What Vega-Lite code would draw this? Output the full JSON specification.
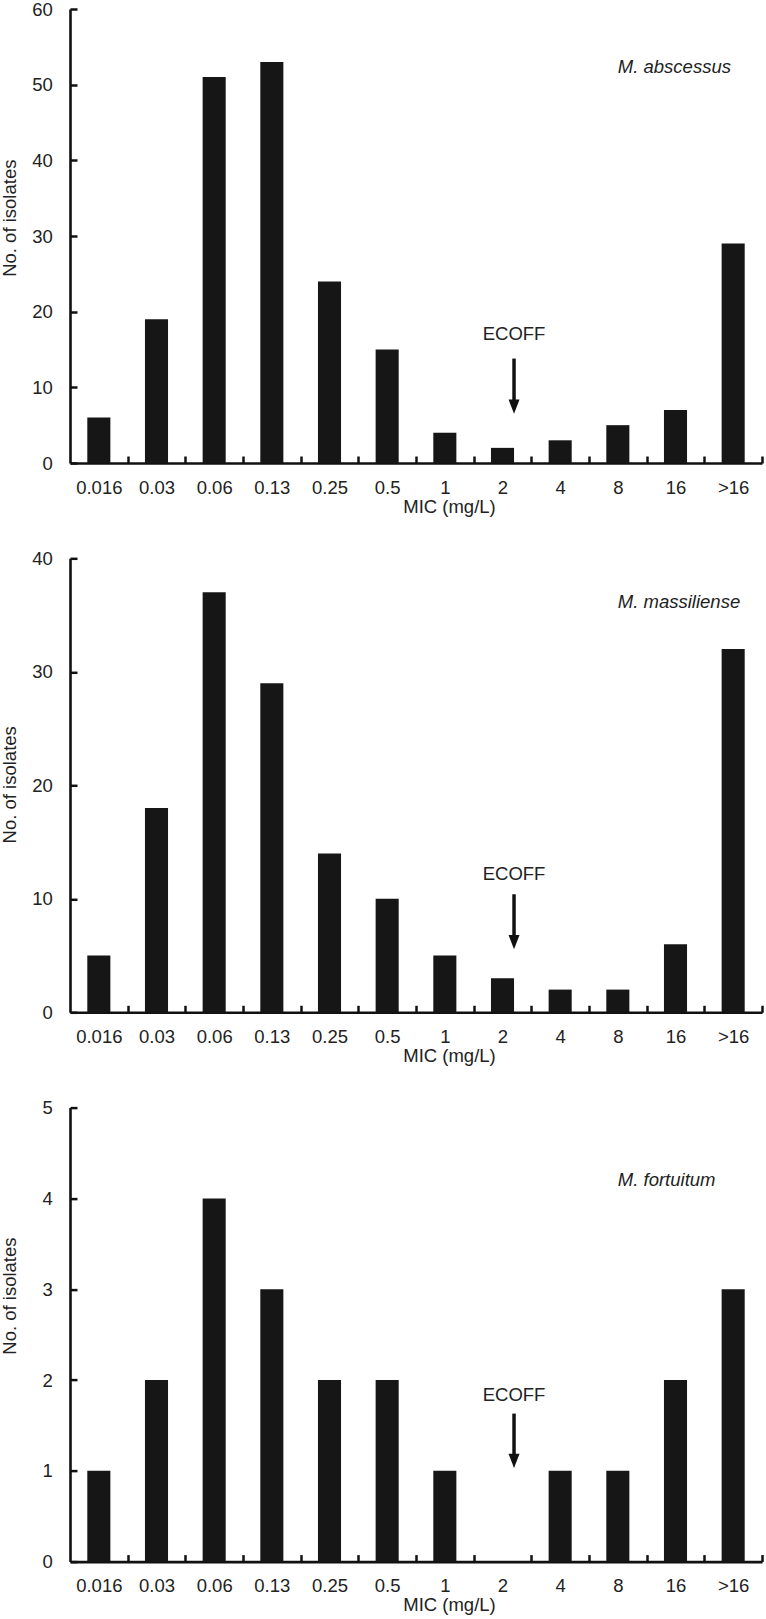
{
  "$schema": "https://vega.github.io/schema/vega-lite/v6.json",
  "background": "white",
  "padding": {"left": 0, "top": 0, "right": 0, "bottom": 0},
  "bounds": "flush",
  "spacing": 95.3,
  "config": {
    "view": {"stroke": null},
    "font": "Liberation Sans",
    "axis": {
      "grid": false,
      "domainColor": "#111111",
      "domainWidth": 2.6,
      "ticks": true,
      "tickColor": "#111111",
      "tickWidth": 2.5,
      "tickSize": -7,
      "labelColor": "#222222",
      "titleColor": "#222222",
      "labelFont": "Liberation Sans",
      "titleFont": "Liberation Sans",
      "labelFontSize": 18.5,
      "titleFontSize": 18.5,
      "titleFontWeight": "normal",
      "zindex": 1
    },
    "axisX": {"labelAngle": 0, "labelPadding": 22, "titleX": 379, "titleY": 49, "titleAlign": "center", "titleBaseline": "alphabetic"},
    "axisY": {"format": "d", "labelPadding": 24.7, "titleX": -55, "titleBaseline": "alphabetic", "titleAlign": "center"}
  },
  "datasets": {
    "bars": [
      {"panel": "abscessus", "mic": "0.016", "count": 6},
      {"panel": "abscessus", "mic": "0.03", "count": 19},
      {"panel": "abscessus", "mic": "0.06", "count": 51},
      {"panel": "abscessus", "mic": "0.13", "count": 53},
      {"panel": "abscessus", "mic": "0.25", "count": 24},
      {"panel": "abscessus", "mic": "0.5", "count": 15},
      {"panel": "abscessus", "mic": "1", "count": 4},
      {"panel": "abscessus", "mic": "2", "count": 2},
      {"panel": "abscessus", "mic": "4", "count": 3},
      {"panel": "abscessus", "mic": "8", "count": 5},
      {"panel": "abscessus", "mic": "16", "count": 7},
      {"panel": "abscessus", "mic": ">16", "count": 29},
      {"panel": "massiliense", "mic": "0.016", "count": 5},
      {"panel": "massiliense", "mic": "0.03", "count": 18},
      {"panel": "massiliense", "mic": "0.06", "count": 37},
      {"panel": "massiliense", "mic": "0.13", "count": 29},
      {"panel": "massiliense", "mic": "0.25", "count": 14},
      {"panel": "massiliense", "mic": "0.5", "count": 10},
      {"panel": "massiliense", "mic": "1", "count": 5},
      {"panel": "massiliense", "mic": "2", "count": 3},
      {"panel": "massiliense", "mic": "4", "count": 2},
      {"panel": "massiliense", "mic": "8", "count": 2},
      {"panel": "massiliense", "mic": "16", "count": 6},
      {"panel": "massiliense", "mic": ">16", "count": 32},
      {"panel": "fortuitum", "mic": "0.016", "count": 1},
      {"panel": "fortuitum", "mic": "0.03", "count": 2},
      {"panel": "fortuitum", "mic": "0.06", "count": 4},
      {"panel": "fortuitum", "mic": "0.13", "count": 3},
      {"panel": "fortuitum", "mic": "0.25", "count": 2},
      {"panel": "fortuitum", "mic": "0.5", "count": 2},
      {"panel": "fortuitum", "mic": "1", "count": 1},
      {"panel": "fortuitum", "mic": "2", "count": 0},
      {"panel": "fortuitum", "mic": "4", "count": 1},
      {"panel": "fortuitum", "mic": "8", "count": 1},
      {"panel": "fortuitum", "mic": "16", "count": 2},
      {"panel": "fortuitum", "mic": ">16", "count": 3}
    ],
    "notes": [
      {"panel": "abscessus", "species": "M. abscessus", "speciesAt": "8", "speciesY": 51.6, "label": "ECOFF", "ecoffAt": "2", "labelY": 17.0, "arrowTop": 13.8, "arrowHead": 7.44},
      {"panel": "massiliense", "species": "M. massiliense", "speciesAt": "8", "speciesY": 35.6, "label": "ECOFF", "ecoffAt": "2", "labelY": 12.2, "arrowTop": 10.4, "arrowHead": 6.18},
      {"panel": "fortuitum", "species": "M. fortuitum", "speciesAt": "8", "speciesY": 4.14, "label": "ECOFF", "ecoffAt": "2", "labelY": 1.84, "arrowTop": 1.63, "arrowHead": 1.11}
    ]
  },
  "vconcat": [
    {
      "width": 692, "height": 454,
      "layer": [
        {
          "data": {"name": "bars"},
          "transform": [{"filter": "datum.panel == 'abscessus'"}],
          "mark": {"type": "bar", "color": "#161616"},
          "encoding": {
            "x": {"field": "mic", "type": "nominal",
              "scale": {"domain": ["0.016","0.03","0.06","0.13","0.25","0.5","1","2","4","8","16",">16"], "paddingInner": 0.6, "paddingOuter": 0.3},
              "axis": {"title": "MIC (mg/L)", "bandPosition": 1, "tickOffset": 17.3, "labelOffset": -17.3}},
            "y": {"field": "count", "type": "quantitative",
              "scale": {"domain": [0, 60], "nice": false},
              "axis": {"title": "No. of isolates", "values": [0,10,20,30,40,50,60], "titleY": 208.7}}
          }
        },
        {
          "data": {"name": "notes"},
          "transform": [{"filter": "datum.panel == 'abscessus'"}],
          "layer": [
            {"mark": {"type": "rule", "color": "#111111", "strokeWidth": 3.5},
             "encoding": {"x": {"field": "ecoffAt", "type": "nominal", "bandPosition": 1}, "y": {"field": "arrowTop", "type": "quantitative"}, "y2": {"field": "arrowHead"}}},
            {"mark": {"type": "point", "shape": "M-1,-1.3L1,-1.3L0,1.3Z", "filled": true, "size": 121, "color": "#111111", "opacity": 1},
             "encoding": {"x": {"field": "ecoffAt", "type": "nominal", "bandPosition": 1}, "y": {"field": "arrowHead", "type": "quantitative"}}},
            {"mark": {"type": "text", "fontSize": 18.5, "baseline": "middle", "align": "center", "color": "#222222"},
             "encoding": {"x": {"field": "ecoffAt", "type": "nominal", "bandPosition": 1}, "y": {"field": "labelY", "type": "quantitative"}, "text": {"field": "label"}}},
            {"mark": {"type": "text", "fontSize": 18.5, "fontStyle": "italic", "baseline": "alphabetic", "align": "left", "color": "#222222"},
             "encoding": {"x": {"field": "speciesAt", "type": "nominal", "bandPosition": 0.5}, "y": {"field": "speciesY", "type": "quantitative"}, "text": {"field": "species"}}}
          ]
        }
      ]
    },
    {
      "width": 692, "height": 454,
      "layer": [
        {
          "data": {"name": "bars"},
          "transform": [{"filter": "datum.panel == 'massiliense'"}],
          "mark": {"type": "bar", "color": "#161616"},
          "encoding": {
            "x": {"field": "mic", "type": "nominal",
              "scale": {"domain": ["0.016","0.03","0.06","0.13","0.25","0.5","1","2","4","8","16",">16"], "paddingInner": 0.6, "paddingOuter": 0.3},
              "axis": {"title": "MIC (mg/L)", "bandPosition": 1, "tickOffset": 17.3, "labelOffset": -17.3}},
            "y": {"field": "count", "type": "quantitative",
              "scale": {"domain": [0, 40], "nice": false},
              "axis": {"title": "No. of isolates", "values": [0,10,20,30,40], "titleY": 226}}
          }
        },
        {
          "data": {"name": "notes"},
          "transform": [{"filter": "datum.panel == 'massiliense'"}],
          "layer": [
            {"mark": {"type": "rule", "color": "#111111", "strokeWidth": 3.5},
             "encoding": {"x": {"field": "ecoffAt", "type": "nominal", "bandPosition": 1}, "y": {"field": "arrowTop", "type": "quantitative"}, "y2": {"field": "arrowHead"}}},
            {"mark": {"type": "point", "shape": "M-1,-1.3L1,-1.3L0,1.3Z", "filled": true, "size": 121, "color": "#111111", "opacity": 1},
             "encoding": {"x": {"field": "ecoffAt", "type": "nominal", "bandPosition": 1}, "y": {"field": "arrowHead", "type": "quantitative"}}},
            {"mark": {"type": "text", "fontSize": 18.5, "baseline": "middle", "align": "center", "color": "#222222"},
             "encoding": {"x": {"field": "ecoffAt", "type": "nominal", "bandPosition": 1}, "y": {"field": "labelY", "type": "quantitative"}, "text": {"field": "label"}}},
            {"mark": {"type": "text", "fontSize": 18.5, "fontStyle": "italic", "baseline": "alphabetic", "align": "left", "color": "#222222"},
             "encoding": {"x": {"field": "speciesAt", "type": "nominal", "bandPosition": 0.5}, "y": {"field": "speciesY", "type": "quantitative"}, "text": {"field": "species"}}}
          ]
        }
      ]
    },
    {
      "width": 692, "height": 454,
      "layer": [
        {
          "data": {"name": "bars"},
          "transform": [{"filter": "datum.panel == 'fortuitum'"}],
          "mark": {"type": "bar", "color": "#161616"},
          "encoding": {
            "x": {"field": "mic", "type": "nominal",
              "scale": {"domain": ["0.016","0.03","0.06","0.13","0.25","0.5","1","2","4","8","16",">16"], "paddingInner": 0.6, "paddingOuter": 0.3},
              "axis": {"title": "MIC (mg/L)", "bandPosition": 1, "tickOffset": 17.3, "labelOffset": -17.3}},
            "y": {"field": "count", "type": "quantitative",
              "scale": {"domain": [0, 5], "nice": false},
              "axis": {"title": "No. of isolates", "values": [0,1,2,3,4,5], "titleY": 188}}
          }
        },
        {
          "data": {"name": "notes"},
          "transform": [{"filter": "datum.panel == 'fortuitum'"}],
          "layer": [
            {"mark": {"type": "rule", "color": "#111111", "strokeWidth": 3.5},
             "encoding": {"x": {"field": "ecoffAt", "type": "nominal", "bandPosition": 1}, "y": {"field": "arrowTop", "type": "quantitative"}, "y2": {"field": "arrowHead"}}},
            {"mark": {"type": "point", "shape": "M-1,-1.3L1,-1.3L0,1.3Z", "filled": true, "size": 121, "color": "#111111", "opacity": 1},
             "encoding": {"x": {"field": "ecoffAt", "type": "nominal", "bandPosition": 1}, "y": {"field": "arrowHead", "type": "quantitative"}}},
            {"mark": {"type": "text", "fontSize": 18.5, "baseline": "middle", "align": "center", "color": "#222222"},
             "encoding": {"x": {"field": "ecoffAt", "type": "nominal", "bandPosition": 1}, "y": {"field": "labelY", "type": "quantitative"}, "text": {"field": "label"}}},
            {"mark": {"type": "text", "fontSize": 18.5, "fontStyle": "italic", "baseline": "alphabetic", "align": "left", "color": "#222222"},
             "encoding": {"x": {"field": "speciesAt", "type": "nominal", "bandPosition": 0.5}, "y": {"field": "speciesY", "type": "quantitative"}, "text": {"field": "species"}}}
          ]
        }
      ]
    }
  ]
}
